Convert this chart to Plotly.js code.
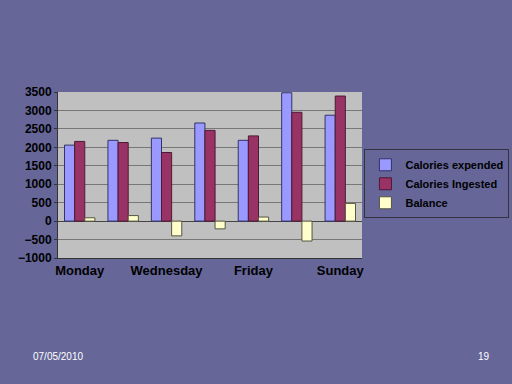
<!DOCTYPE html>
<html>
<head>
<meta charset="utf-8">
<script src="https://cdn.plot.ly/plotly-3.0.1.min.js"></script>
<style>html,body{margin:0;padding:0;background:#666699;}#chart{width:512px;height:384px;}</style>
</head>
<body>
<div id="chart"></div>
<script>
const days = ['Monday','Tuesday','Wednesday','Thursday','Friday','Saturday','Sunday'];
const expended = [2060, 2190, 2250, 2660, 2190, 3480, 2870];
const ingested = [2160, 2130, 1860, 2460, 2310, 2950, 3390];
const balance = [90, 150, -400, -210, 110, -540, 480];
const shownTicks = ['Monday','Wednesday','Friday','Sunday'];
const yTicks = [-1000,-500,0,500,1000,1500,2000,2500,3000,3500];

const traces = [
  {type:'bar', name:'Calories expended', x:days, y:expended,
   marker:{color:'#9999ff', line:{color:'#333366', width:1}}},
  {type:'bar', name:'Calories Ingested', x:days, y:ingested,
   marker:{color:'#993366', line:{color:'#4d1a33', width:1}}},
  {type:'bar', name:'Balance', x:days, y:balance,
   marker:{color:'#ffffcc', line:{color:'#555544', width:1}}}
];

const F = 'Liberation Sans, Arial, sans-serif';
const layout = {
  width:512, height:384,
  paper_bgcolor:'#666699', plot_bgcolor:'#c0c0c0',
  margin:{l:58, r:150, t:92, b:126, autoexpand:false},
  barmode:'group', bargap:0.3, bargroupgap:0,
  showlegend:true,
  font:{family:F, color:'#000'},
  xaxis:{type:'category', tickmode:'array', tickvals:shownTicks, ticktext:shownTicks,
    tickfont:{size:13, family:F, weight:'bold'}, automargin:false,
    showline:true, linecolor:'#333', ticks:'', showgrid:false},
  yaxis:{range:[-1000,3500], tickmode:'array', tickvals:yTicks, automargin:false,
    tickfont:{size:12, family:F, weight:'bold'},
    showgrid:true, gridcolor:'#777777', gridwidth:1,
    zeroline:true, zerolinecolor:'#444', zerolinewidth:1,
    showline:true, linecolor:'#333', ticks:'outside', ticklen:3, tickcolor:'#333'},
  legend:{x:1.008, y:0.655, xanchor:'left', yanchor:'top',
    bgcolor:'rgba(0,0,0,0)', bordercolor:'#333344', borderwidth:1,
    font:{size:11, family:F, weight:'bold', color:'#000'},
    itemwidth:30, tracegroupgap:0},
  annotations:[
    {text:'07/05/2010', xref:'paper', yref:'paper', x:-0.089, y:-0.596, xanchor:'left', yanchor:'middle',
     showarrow:false, font:{size:10, color:'#ffffff', family:F}},
    {text:'19', xref:'paper', yref:'paper', x:1.375, y:-0.596, xanchor:'left', yanchor:'middle',
     showarrow:false, font:{size:10, color:'#ffffff', family:F}}
  ]
};
Plotly.newPlot('chart', traces, layout, {displayModeBar:false, staticPlot:true});
</script>
</body>
</html>
